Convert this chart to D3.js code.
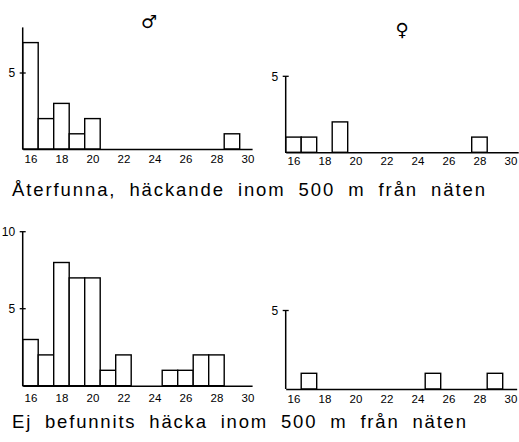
<!DOCTYPE html>
<html><head><meta charset="utf-8">
<script src="https://cdn.jsdelivr.net/npm/d3@7"></script>
<style>
html,body{margin:0;padding:0;background:#fff;}
svg{display:block;}
text{fill:#000;}
</style></head>
<body>
<svg id="chart" width="519" height="442"></svg>
<script>
// ---- data ----
const ages = [16,17,18,19,20,21,22,23,24,25,26,27,28,29];
const xTickLabels = [16,18,20,22,24,26,28,30];
const maleBreeding      = [7,2,3,1,2,0,0,0,0,0,0,0,0,1];
const femaleBreeding    = [1,1,0,2,0,0,0,0,0,0,0,0,1,0];
const maleNotBreeding   = [3,2,8,7,7,1,2,0,0,1,1,2,2,0];
const femaleNotBreeding = [0,1,0,0,0,0,0,0,0,1,0,0,0,1];
const yTicksMale1 = [5];
const yTicksFemale = [5];
const yTicksMale2 = [5,10];
const symbolMale = "\u2642\uFE0E";
const symbolFemale = "\u2640\uFE0E";
const caption1 = "Återfunna, häckande inom 500 m från näten";
const caption2 = "Ej befunnits häcka inom 500 m från näten";

// ---- layout ----
const FONT = "'Liberation Sans', Arial, sans-serif";
const svg = d3.select("#chart");
const panels = [
  {vals: maleBreeding, ticks: yTicksMale1, yMax: 8, left: 22.7, base: 149, unit: 15.2, xEnd: 30.3, lab: 14.3},
  {vals: femaleBreeding, ticks: yTicksFemale, yMax: 5, left: 285.7, base: 152.3, unit: 15.2, xEnd: 30.5, lab: 13},
  {vals: maleNotBreeding, ticks: yTicksMale2, yMax: 10, left: 22.7, base: 385.7, unit: 15.4, xEnd: 30.3, lab: 16},
  {vals: femaleNotBreeding, ticks: yTicksFemale, yMax: 5, left: 285.7, base: 389, unit: 15.7, xEnd: 30.4, lab: 13.5}
];
const binW = 15.5;

panels.forEach(p => {
  const x = d3.scaleLinear().domain([15.5, p.xEnd]).range([p.left, p.left + (p.xEnd - 15.5) * binW]);
  const y = d3.scaleLinear().domain([0, p.yMax]).range([p.base, p.base - p.yMax * p.unit]);
  const g = svg.append("g");

  const data = ages.map((a, i) => ({a, v: p.vals[i]})).filter(d => d.v > 0);
  g.selectAll("rect").data(data).join("rect")
    .attr("x", d => x(d.a - 0.5))
    .attr("width", d => x(d.a + 0.5) - x(d.a - 0.5))
    .attr("y", d => y(d.v))
    .attr("height", d => y(0) - y(d.v))
    .attr("fill", "#fff").attr("stroke", "#000").attr("stroke-width", 1.4);

  const fs = 11.5;
  const ax = g.append("g").attr("transform", `translate(0,${p.base})`)
    .call(d3.axisBottom(x).tickValues(xTickLabels).tickSize(0).tickPadding(p.lab - 0.71 * fs).tickFormat(d3.format("d")));
  ax.select(".domain").attr("stroke", "#000").attr("stroke-width", 1.6);
  ax.selectAll("text").style("font-size", fs + "px").style("font-family", FONT).attr("fill", "#000");

  g.append("line").attr("x1", p.left).attr("x2", p.left)
    .attr("y1", y(0)).attr("y2", y(p.yMax)).attr("stroke", "#000").attr("stroke-width", 1.5);
  g.selectAll(".yt").data(p.ticks).join("line").attr("class", "yt")
    .attr("x1", p.left - 3).attr("x2", p.left + 3)
    .attr("y1", d => y(d)).attr("y2", d => y(d))
    .attr("stroke", "#000").attr("stroke-width", 1.3);
  g.selectAll(".yl").data(p.ticks).join("text").attr("class", "yl")
    .attr("x", p.left - 7.5).attr("y", d => y(d) + 4.3)
    .attr("text-anchor", "end").style("font-size", "12px").style("font-family", FONT).text(d => d);
});

// sex symbols
svg.append("text").attr("x", 149).attr("y", 28).attr("text-anchor", "middle")
  .style("font-family", "'DejaVu Sans'").style("font-size", "18px").text(symbolMale);
svg.append("text").attr("x", 402).attr("y", 36).attr("text-anchor", "middle")
  .style("font-family", "'DejaVu Sans'").style("font-size", "18px").text(symbolFemale);

// captions, spread to the reference width
function caption(txt, yPos, target) {
  const t = svg.append("text").attr("x", 12).attr("y", yPos)
    .style("font-family", FONT).style("font-size", "18.5px").style("word-spacing", "6px").text(txt);
  const natural = t.node().getComputedTextLength();
  const ls = (target - natural) / (txt.length - 1);
  t.style("letter-spacing", ls + "px");
}
caption(caption1, 196, 473);
caption(caption2, 428, 454);
</script>
</body></html>
